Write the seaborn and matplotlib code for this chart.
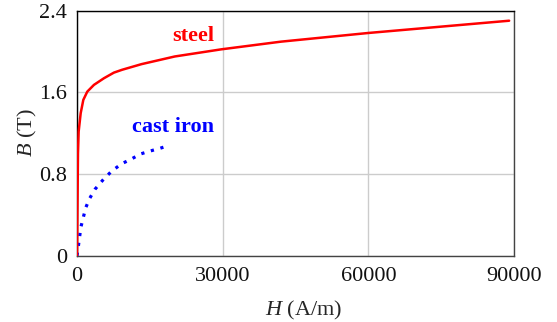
import matplotlib
matplotlib.use("Agg")
import matplotlib.pyplot as plt
import seaborn as sns
import pandas as pd

# Data
steel_H = [0, 200, 340, 760, 1300, 2120, 3490, 5550, 7600, 9300, 13290, 20140, 29730, 42000, 60000, 89000]
steel_B = [0, 1.0, 1.215, 1.395, 1.525, 1.606, 1.672, 1.737, 1.792, 1.82, 1.875, 1.95, 2.02, 2.095, 2.18, 2.30]

iron_H = [0, 300, 800, 1800, 2600, 3700, 5500, 7200, 9200, 11100, 13100, 15100, 17000, 19000]
iron_B = [0, 0.10, 0.28, 0.47, 0.56, 0.65, 0.75, 0.83, 0.90, 0.944, 0.996, 1.025, 1.05, 1.08]

x_ticks = [0, 30000, 60000, 90000]
y_ticks = [0, 0.8, 1.6, 2.4]
y_tick_labels = ["0", "0.8", "1.6", "2.4"]

sns.set_style("white")
plt.rcParams['font.family'] = ['Liberation Serif', 'DejaVu Serif']
plt.rcParams['mathtext.fontset'] = 'custom'
plt.rcParams['mathtext.it'] = 'Liberation Serif:italic'
plt.rcParams['mathtext.rm'] = 'Liberation Serif'

fig = plt.figure(figsize=(5.57, 3.22), dpi=100)
ax = fig.add_axes([77/557, 1 - 255.7/322, (514 - 77)/557, (255.7 - 10.5)/322])

df_steel = pd.DataFrame({"H": steel_H, "B": steel_B})
df_iron = pd.DataFrame({"H": iron_H, "B": iron_B})

ax.grid(True, color="#cccccc", linewidth=1.0, zorder=0)
sns.lineplot(data=df_iron, x="H", y="B", ax=ax, color="#0000ff", linewidth=2.3,
             linestyle=(0, (1, 2.1)), sort=False, zorder=3)
sns.lineplot(data=df_steel, x="H", y="B", ax=ax, color="#ff0000", linewidth=1.8,
             sort=False, zorder=4)

ax.set_xlim(0, 90000)
ax.set_ylim(0, 2.4)
ax.set_xticks(x_ticks)
ax.set_xticklabels([str(t) for t in x_ticks])
ax.set_yticks(y_ticks)
ax.set_yticklabels(y_tick_labels)
ax.tick_params(axis="both", length=0, labelsize=16, colors="#111111")
ax.tick_params(axis="x", pad=8)
ax.tick_params(axis="y", pad=7)

for side in ["left", "top"]:
    ax.spines[side].set_color("#000000")
for side in ["right", "bottom"]:
    ax.spines[side].set_color("#444444")
for s in ax.spines.values():
    s.set_linewidth(1.0)
    s.set_visible(True)

ax.set_xlabel(r"$H$ (A/m)", fontsize=16)
ax.set_ylabel(r"$B$ (T)", fontsize=16)
ax.xaxis.set_label_coords(0.518, -0.178)
ax.yaxis.set_label_coords(-0.088, 0.5)

ax.text(24000, 2.15, "steel", color="#ff0000", fontsize=16, fontweight="bold",
        ha="center", va="center")
ax.text(19700, 1.26, "cast iron", color="#0000ff", fontsize=16, fontweight="bold",
        ha="center", va="center")

fig.savefig("out.png", dpi=100)
